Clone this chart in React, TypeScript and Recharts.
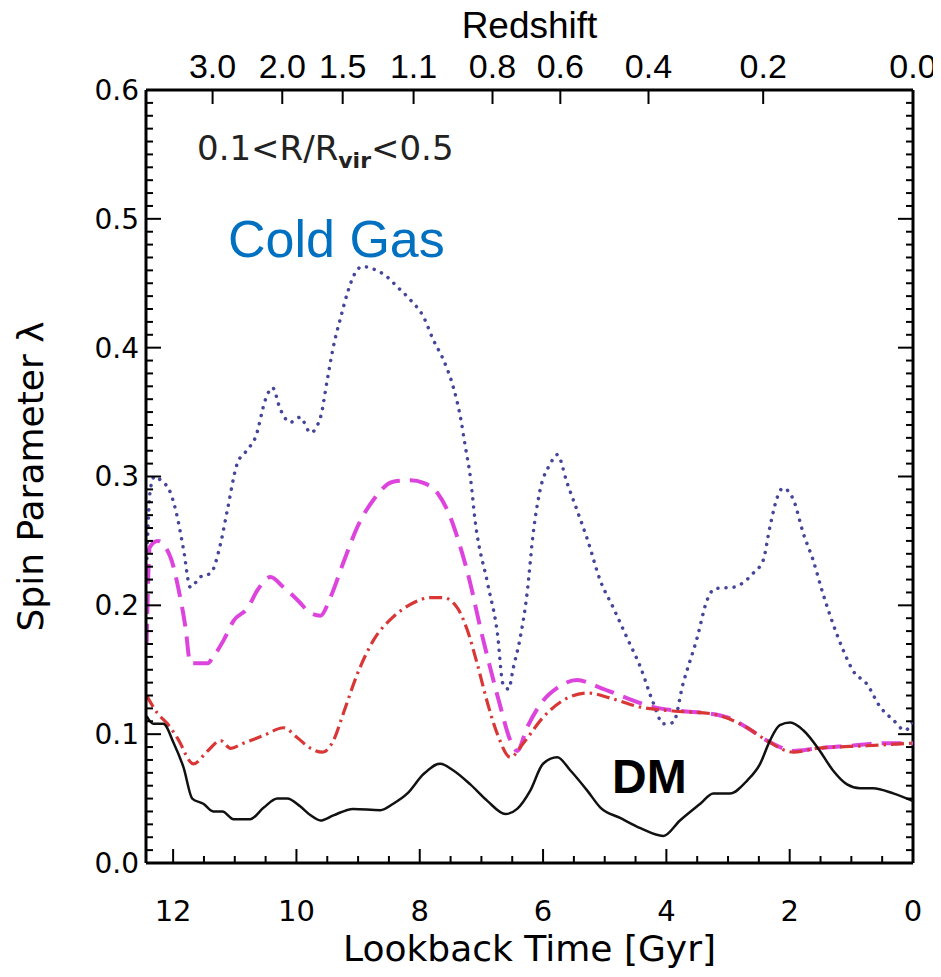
import { Line, LineChart, ReferenceLine, XAxis, YAxis } from 'recharts';

// lookback time axis runs from 0 (right) to ~12.44 Gyr (left)
const X_MAX = 12.44;
const Y_MAX = 0.6;

const timeTicks = [0, 2, 4, 6, 8, 10, 12];
const spinTicks = [0, 0.1, 0.2, 0.3, 0.4, 0.5, 0.6];
const redshiftLabels = ['3.0', '2.0', '1.5', '1.1', '0.8', '0.6', '0.4', '0.2', '0.0'];
const redshiftTimes = [11.36, 10.23, 9.25, 8.1, 6.82, 5.72, 4.29, 2.43, 0];

// [lookback time Gyr, spin parameter]
const coldGas = [
  [12.43, 0.23], [12.37, 0.29], [12.3, 0.3], [12.2, 0.297], [12.04, 0.287], [11.93, 0.268],
  [11.83, 0.243], [11.72, 0.214], [11.56, 0.222], [11.39, 0.225], [11.23, 0.248], [11.12, 0.274],
  [10.96, 0.31], [10.79, 0.321], [10.66, 0.331], [10.5, 0.36], [10.39, 0.369], [10.26, 0.352],
  [10.1, 0.342], [9.94, 0.346], [9.77, 0.334], [9.61, 0.346], [9.5, 0.375], [9.4, 0.401],
  [9.29, 0.422], [9.17, 0.443], [9.08, 0.455], [8.93, 0.463], [8.75, 0.461], [8.53, 0.455],
  [8.36, 0.447], [8.15, 0.437], [7.94, 0.424], [7.78, 0.406], [7.62, 0.391], [7.46, 0.37],
  [7.34, 0.346], [7.26, 0.323], [7.18, 0.3], [7.1, 0.265], [6.9, 0.217], [6.74, 0.178],
  [6.65, 0.139], [6.56, 0.135], [6.48, 0.152], [6.37, 0.175], [6.26, 0.209], [6.16, 0.256],
  [6.05, 0.289], [5.88, 0.31], [5.77, 0.317], [5.61, 0.295], [5.45, 0.274], [5.28, 0.251],
  [5.07, 0.219], [4.86, 0.198], [4.64, 0.175], [4.42, 0.152], [4.21, 0.124], [4.05, 0.108],
  [3.89, 0.109], [3.73, 0.139], [3.5, 0.175], [3.34, 0.204], [3.21, 0.213], [2.92, 0.214],
  [2.59, 0.225], [2.43, 0.235], [2.32, 0.261], [2.2, 0.284], [2.11, 0.291], [1.94, 0.282],
  [1.78, 0.256], [1.62, 0.235], [1.46, 0.209], [1.3, 0.186], [1.13, 0.165], [0.97, 0.149],
  [0.75, 0.139], [0.53, 0.121], [0.32, 0.111], [0.13, 0.103], [0, 0.11],
];

const magentaDashed = [
  [12.43, 0.17], [12.38, 0.245], [12.25, 0.25], [12.04, 0.237], [11.91, 0.212], [11.8, 0.183],
  [11.72, 0.155], [11.44, 0.155], [11.35, 0.16], [11.18, 0.173], [11.02, 0.188], [10.79, 0.198],
  [10.63, 0.212], [10.42, 0.222], [10.21, 0.214], [9.98, 0.204], [9.77, 0.194], [9.61, 0.192],
  [9.45, 0.206], [9.24, 0.233], [9.01, 0.261], [8.75, 0.282], [8.43, 0.296], [8.15, 0.297],
  [7.94, 0.295], [7.71, 0.287], [7.5, 0.268], [7.34, 0.245], [7.18, 0.217], [7.02, 0.183],
  [6.86, 0.152], [6.69, 0.121], [6.53, 0.095], [6.42, 0.087], [6.26, 0.105], [6.0, 0.126],
  [5.77, 0.136], [5.45, 0.142], [5.07, 0.136], [4.64, 0.128], [4.21, 0.121], [3.78, 0.118],
  [3.29, 0.116], [3.01, 0.113], [2.69, 0.105], [2.37, 0.095], [2.11, 0.089], [1.94, 0.087],
  [1.56, 0.089], [1.02, 0.091], [0.49, 0.093], [0, 0.093],
];

const redDashDot = [
  [12.43, 0.13], [12.25, 0.116], [12.09, 0.108], [11.93, 0.097], [11.67, 0.077], [11.44, 0.087],
  [11.23, 0.095], [11.07, 0.089], [10.86, 0.093], [10.53, 0.099], [10.21, 0.105], [9.98, 0.097],
  [9.77, 0.089], [9.58, 0.086], [9.4, 0.095], [9.24, 0.116], [9.01, 0.147], [8.75, 0.173],
  [8.43, 0.191], [8.1, 0.202], [7.83, 0.206], [7.62, 0.206], [7.39, 0.198], [7.23, 0.181],
  [7.07, 0.155], [6.9, 0.124], [6.74, 0.1], [6.53, 0.082], [6.32, 0.093], [6.0, 0.113],
  [5.61, 0.128], [5.28, 0.132], [4.91, 0.128], [4.42, 0.121], [3.89, 0.118], [3.29, 0.116],
  [2.69, 0.105], [2.37, 0.095], [1.94, 0.086], [1.56, 0.089], [0.75, 0.091], [0, 0.093],
];

const darkMatter = [
  [12.43, 0.114], [12.32, 0.108], [12.16, 0.108], [11.99, 0.093], [11.83, 0.074], [11.69, 0.05],
  [11.51, 0.046], [11.35, 0.04], [11.2, 0.04], [11.02, 0.034], [10.75, 0.034], [10.53, 0.043],
  [10.31, 0.05], [10.15, 0.05], [9.94, 0.044], [9.77, 0.037], [9.61, 0.033], [9.4, 0.037],
  [9.08, 0.042], [8.64, 0.041], [8.43, 0.046], [8.2, 0.054], [7.94, 0.069], [7.67, 0.077],
  [7.46, 0.072], [7.18, 0.061], [6.9, 0.048], [6.61, 0.038], [6.42, 0.042], [6.21, 0.056],
  [6.0, 0.077], [5.77, 0.082], [5.56, 0.072], [5.28, 0.056], [5.07, 0.043], [4.75, 0.035],
  [4.42, 0.027], [4.05, 0.021], [3.78, 0.033], [3.45, 0.046], [3.24, 0.054], [2.97, 0.054],
  [2.69, 0.064], [2.48, 0.077], [2.32, 0.095], [2.16, 0.107], [1.99, 0.109], [1.78, 0.103],
  [1.51, 0.087], [1.3, 0.072], [1.07, 0.061], [0.86, 0.058], [0.65, 0.058], [0.32, 0.054],
  [0, 0.048],
];

const toRows = (pts: number[][]) => pts.map(([t, v]) => ({ t, v }));

// minor frame ticks: every half Gyr and every 0.01 in lambda
const timeAllTicks = Array.from({ length: 25 }, (_, i) => i / 2);
const spinAllTicks = Array.from({ length: 61 }, (_, i) => i / 100);
const isSpinMajor = (v: number) => Math.round(v * 100) % 10 === 0;

const FONT = '"DejaVu Sans", sans-serif';
const ARIAL = '"Liberation Sans", Arial, sans-serif';

// chart layout: the plot box follows from the margins and axis sizes below
const W = 925;
const H = 961;
const Y_AXIS_W = 138;
const RIGHT_PAD = 20;
const TOP_AXIS_H = 82;
const BOTTOM_AXIS_H = 106;
const plotLeft = Y_AXIS_W;
const plotRight = W - RIGHT_PAD;
const plotTop = TOP_AXIS_H;
const plotBottom = H - BOTTOM_AXIS_H;
const sx = (t: number) => plotRight - (t / X_MAX) * (plotRight - plotLeft);
const sy = (v: number) => plotBottom - (v / Y_MAX) * (plotBottom - plotTop);

// inward frame ticks (the IDL-style box)
const FrameTicks = () => (
  <g stroke="#000" strokeWidth={2}>
    {timeAllTicks.filter(t => t > 0).map(t => (
      <line key={`b${t}`} x1={sx(t)} x2={sx(t)} y1={plotBottom} y2={plotBottom - (t % 2 === 0 ? 14 : 7)} />
    ))}
    {redshiftTimes.filter(t => t > 0).map(t => (
      <line key={`t${t}`} x1={sx(t)} x2={sx(t)} y1={plotTop} y2={plotTop + 14} />
    ))}
    {spinAllTicks.filter(v => v > 0 && v < Y_MAX).map(v => (
      <g key={`y${v}`}>
        <line x1={plotLeft} x2={plotLeft + (isSpinMajor(v) ? 15 : 7)} y1={sy(v)} y2={sy(v)} />
        <line x1={plotRight} x2={plotRight - (isSpinMajor(v) ? 15 : 7)} y1={sy(v)} y2={sy(v)} />
      </g>
    ))}
  </g>
);

const App = () => (
  <div style={{ position: 'relative', width: W, height: H, fontFamily: FONT }}>
    <style>{'.recharts-surface{overflow:visible}'}</style>
    <LineChart width={W} height={H} margin={{ top: 0, right: RIGHT_PAD, bottom: 0, left: 0 }}>
      <XAxis
        dataKey="t"
        type="number"
        domain={[0, X_MAX]}
        allowDataOverflow
        reversed
        ticks={timeTicks}
        interval={0}
        height={BOTTOM_AXIS_H}
        tickLine={false}
        tickSize={0}
        tickMargin={37}
        axisLine={{ stroke: '#000', strokeWidth: 3 }}
        tick={{ fontSize: 29, fill: '#000', fontFamily: FONT }}
        label={{
          value: 'Lookback Time [Gyr]',
          position: 'insideBottom',
          offset: 8,
          style: { fontSize: 36, fill: '#000', fontFamily: FONT },
        }}
      />
      <XAxis
        xAxisId="z"
        dataKey="t"
        orientation="top"
        type="number"
        domain={[0, X_MAX]}
        allowDataOverflow
        reversed
        ticks={redshiftTimes}
        interval={0}
        height={TOP_AXIS_H}
        tickLine={false}
        tickSize={0}
        tickMargin={12}
        tickFormatter={(t: number) => redshiftLabels[redshiftTimes.indexOf(t)] ?? ''}
        axisLine={{ stroke: '#000', strokeWidth: 3 }}
        tick={{ fontSize: 34, fill: '#000', fontFamily: ARIAL }}
        label={{
          value: 'Redshift',
          position: 'insideTop',
          offset: 4,
          style: { fontSize: 37, fill: '#000', fontFamily: ARIAL },
        }}
      />
      <YAxis
        dataKey="v"
        type="number"
        domain={[0, Y_MAX]}
        allowDataOverflow
        ticks={spinTicks}
        interval={0}
        width={Y_AXIS_W}
        tickLine={false}
        tickSize={0}
        tickMargin={7}
        tickFormatter={(v: number) => v.toFixed(1)}
        axisLine={{ stroke: '#000', strokeWidth: 3 }}
        tick={{ fontSize: 28, fill: '#000', fontFamily: FONT }}
        label={{
          value: 'Spin Parameter \u03bb',
          angle: -90,
          position: 'insideLeft',
          offset: 22,
          style: { textAnchor: 'middle', fontSize: 36, fill: '#000', fontFamily: FONT },
        }}
      />
      <ReferenceLine x={0} stroke="#000" strokeWidth={3} ifOverflow="visible" />
      <Line
        data={toRows(coldGas)}
        dataKey="v"
        type="monotone"
        stroke="#45459c"
        strokeWidth={3.5}
        strokeDasharray="0.1 8"
        strokeLinecap="round"
        dot={false}
        isAnimationActive={false}
      />
      <Line
        data={toRows(magentaDashed)}
        dataKey="v"
        type="monotone"
        stroke="#dd44dd"
        strokeWidth={4}
        strokeDasharray="20 10"
        dot={false}
        isAnimationActive={false}
      />
      <Line
        data={toRows(redDashDot)}
        dataKey="v"
        type="monotone"
        stroke="#d93636"
        strokeWidth={3.2}
        strokeDasharray="13 5 2.5 5"
        dot={false}
        isAnimationActive={false}
      />
      <Line
        data={toRows(darkMatter)}
        dataKey="v"
        type="monotone"
        stroke="#111"
        strokeWidth={2.5}
        dot={false}
        isAnimationActive={false}
      />
    </LineChart>
    <svg width={W} height={H} style={{ position: 'absolute', left: 0, top: 0, pointerEvents: 'none' }}>
      <FrameTicks />
      <text x={189} y={152} fontSize={34} fill="#222" fontFamily={FONT}>
        0.1&lt;R/R
        <tspan dy={8} fontSize={22} fontWeight="bold">vir</tspan>
        <tspan dy={-8} fontSize={34}>&lt;0.5</tspan>
      </text>
      <text x={220} y={249} fontSize={52} fill="#0070c0" fontFamily={ARIAL}>
        Cold Gas
      </text>
      <text x={604} y={785} fontSize={48} fontWeight="bold" fill="#000" fontFamily={ARIAL}>
        DM
      </text>
    </svg>
  </div>
);

export default App;
